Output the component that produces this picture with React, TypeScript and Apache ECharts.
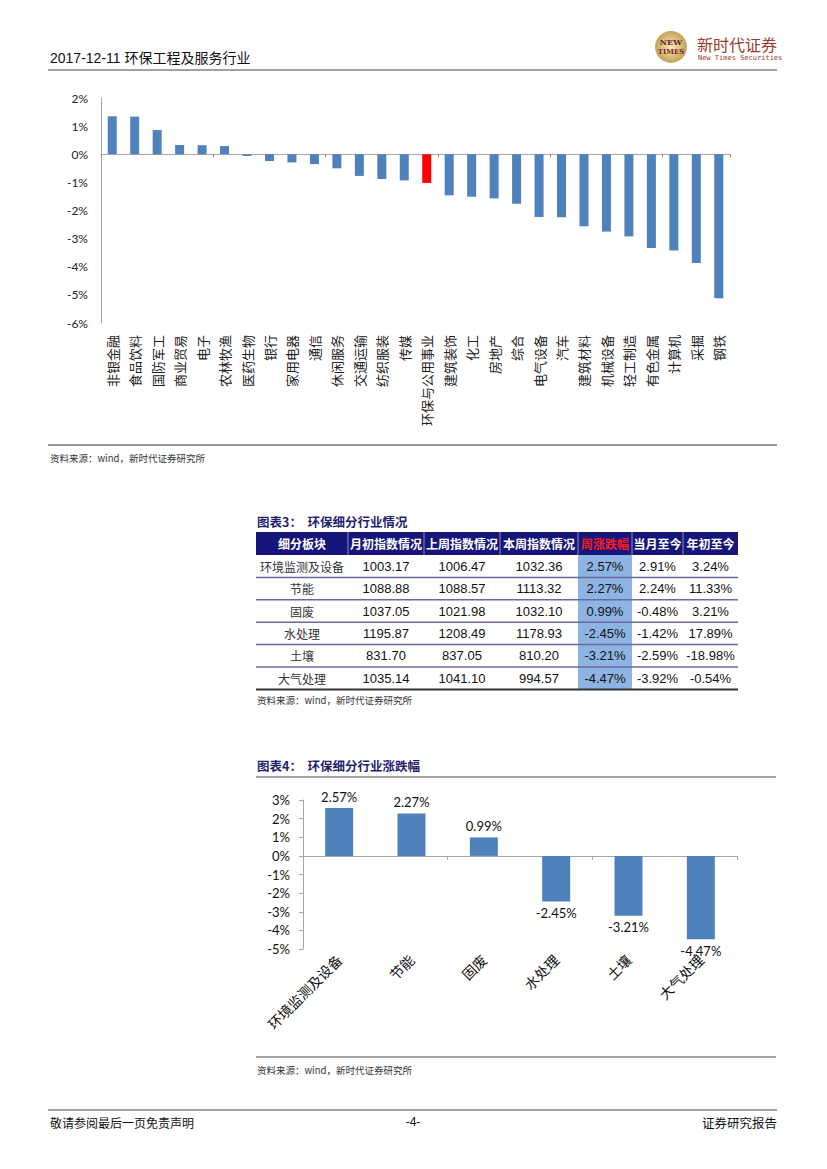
import React, { useEffect, useRef } from "react";
import * as echarts from "echarts";

// ---- Chart 1: industry weekly change (%) ----
const industries = [
  "非银金融", "食品饮料", "国防军工", "商业贸易", "电子", "农林牧渔", "医药生物",
  "银行", "家用电器", "通信", "休闲服务", "交通运输", "纺织服装", "传媒",
  "环保与公用事业", "建筑装饰", "化工", "房地产", "综合", "电气设备", "汽车",
  "建筑材料", "机械设备", "轻工制造", "有色金属", "计算机", "采掘", "钢铁",
];
const industryChange = [
  1.35, 1.34, 0.86, 0.33, 0.32, 0.29, -0.06, -0.24, -0.29, -0.35, -0.5, -0.77,
  -0.88, -0.93, -1.02, -1.46, -1.51, -1.57, -1.76, -2.23, -2.24, -2.56, -2.75,
  -2.92, -3.33, -3.42, -3.87, -5.12,
];
const highlightIndustry = "环保与公用事业";
const chart1Min = -6;
const chart1Max = 2;

// ---- Table 3 / Chart 4: sub-sectors ----
const tableHeaders = ["细分板块", "月初指数情况", "上周指数情况", "本周指数情况", "周涨跌幅", "当月至今", "年初至今"];
const subSectors = ["环境监测及设备", "节能", "固废", "水处理", "土壤", "大气处理"];
const monthStartIdx = [1003.17, 1088.88, 1037.05, 1195.87, 831.7, 1035.14];
const lastWeekIdx = [1006.47, 1088.57, 1021.98, 1208.49, 837.05, 1041.1];
const thisWeekIdx = [1032.36, 1113.32, 1032.1, 1178.93, 810.2, 994.57];
const weekChange = [2.57, 2.27, 0.99, -2.45, -3.21, -4.47];
const monthToDate = [2.91, 2.24, -0.48, -1.42, -2.59, -3.92];
const yearToDate = [3.24, 11.33, 3.21, 17.89, -18.98, -0.54];
const chart4Min = -5;
const chart4Max = 3;

const headerText = "2017-12-11 环保工程及服务行业";
const sourceText = "资料来源：wind，新时代证券研究所";
const table3Title = "图表3：  环保细分行业情况";
const chart4Title = "图表4：  环保细分行业涨跌幅";

const CJK = "'Noto Sans CJK SC', sans-serif";
const LAT = "'Liberation Sans', 'Noto Sans CJK SC', sans-serif";
const CAL = "Lato, 'Noto Sans CJK SC', sans-serif";
const BLUE = "#4f81bd";

function txt(text: string, x: number, y: number, o: any = {}) {
  const align = o.align || "left";
  const va = o.va || "middle";
  return {
    type: "text",
    silent: true,
    style: {
      text,
      x,
      y,
      fill: o.fill || "#222",
      fontSize: o.size || 12,
      fontFamily: o.family || CJK,
      fontWeight: o.weight || "normal",
      align,
      verticalAlign: va,
      textAlign: align,
      textVerticalAlign: va,
    },
  };
}
function hline(x1: number, x2: number, y: number, stroke = "#333", lineWidth = 1) {
  return { type: "line", silent: true, shape: { x1, y1: y, x2, y2: y }, style: { stroke, lineWidth } };
}

function buildGraphics() {
  const g: any[] = [];
  // page header
  g.push(txt(headerText, 50, 58, { size: 14, family: LAT, fill: "#111" }));
  g.push(hline(48, 777, 70, "#444", 1));
  // logo
  g.push({
    type: "circle",
    silent: true,
    shape: { cx: 671, cy: 47, r: 16 },
    style: {
      fill: new echarts.graphic.RadialGradient(0.5, 0.5, 0.6, [
        { offset: 0, color: "#f6ebc0" },
        { offset: 1, color: "#b8953f" },
      ]),
    },
  });
  g.push(txt("NEW", 671, 42, { size: 8, align: "center", family: "'DejaVu Serif', serif", fill: "#7a1f1f", weight: "bold" }));
  g.push(txt("TIMES", 671, 51, { size: 7, align: "center", family: "'DejaVu Serif', serif", fill: "#7a1f1f", weight: "bold" }));
  g.push(txt("新时代证券", 697, 44, { size: 16, fill: "#9a3b2b" }));
  g.push(txt("New Times Securities", 698, 58, { size: 7, family: "'DejaVu Sans Mono', monospace", fill: "#9a3b2b" }));

  // chart 1 bottom rule & source
  g.push(hline(48, 777, 445, "#333", 1));
  g.push(txt(sourceText, 50, 458, { size: 9.5, fill: "#333" }));

  // table 3
  g.push(txt(table3Title, 257, 521, { size: 12.5, weight: "bold", fill: "#1f1f6e" }));
  const colX = [256, 348, 424, 500, 578, 632, 683, 738];
  const headTop = 532;
  const headH = 23;
  const rowH = 22.4;
  const nRows = subSectors.length;
  const tableBottom = headTop + headH + rowH * nRows;
  g.push({ type: "rect", silent: true, shape: { x: colX[0], y: headTop, width: colX[7] - colX[0], height: headH }, style: { fill: "#15157a" } });
  g.push({
    type: "rect",
    silent: true,
    shape: { x: colX[4], y: headTop + headH, width: colX[5] - colX[4], height: rowH * nRows },
    style: { fill: "#8db4e2" },
  });
  for (let c = 1; c < 7; c++) {
    g.push({ type: "line", silent: true, shape: { x1: colX[c], y1: headTop, x2: colX[c], y2: headTop + headH }, style: { stroke: "#8f8fc0", lineWidth: 1 } });
  }
  tableHeaders.forEach((h, c) => {
    g.push(
      txt(h, (colX[c] + colX[c + 1]) / 2, headTop + headH / 2, {
        size: 12,
        weight: "bold",
        align: "center",
        fill: c === 4 ? "#ff1a1a" : "#ffffff",
      })
    );
  });
  const pct = (v: number) => `${v.toFixed(2)}%`;
  for (let r = 0; r < nRows; r++) {
    const cy = headTop + headH + rowH * r + rowH / 2;
    const cells = [
      subSectors[r],
      monthStartIdx[r].toFixed(2),
      lastWeekIdx[r].toFixed(2),
      thisWeekIdx[r].toFixed(2),
      pct(weekChange[r]),
      pct(monthToDate[r]),
      pct(yearToDate[r]),
    ];
    cells.forEach((t, c) => {
      g.push(
        txt(t, (colX[c] + colX[c + 1]) / 2, cy, {
          size: c === 0 ? 12 : 13,
          family: c === 0 ? CJK : LAT,
          align: "center",
          fill: c === 0 ? "#333" : "#111",
        })
      );
    });
    const ly = headTop + headH + rowH * (r + 1);
    if (r < nRows - 1) g.push(hline(colX[0], colX[7], ly, "#6a6aa0", 1.5));
  }
  g.push(hline(colX[0], colX[7], tableBottom, "#333", 2));
  g.push(txt(sourceText, 257, 700, { size: 9.5, fill: "#333" }));

  // chart 4 title and rules
  g.push(txt(chart4Title, 257, 765, { size: 12.5, weight: "bold", fill: "#1f1f6e" }));
  g.push(hline(256, 776, 777, "#444", 1));
  g.push(hline(256, 776, 1057, "#444", 1));
  g.push(txt(sourceText, 257, 1070, { size: 9.5, fill: "#333" }));

  // footer
  g.push(hline(48, 777, 1110, "#444", 1));
  g.push(txt("敬请参阅最后一页免责声明", 50, 1122, { size: 12, fill: "#111" }));
  g.push(txt("-4-", 413, 1122, { size: 12, family: LAT, align: "center", fill: "#111" }));
  g.push(txt("证券研究报告", 777, 1122, { size: 12.5, align: "right", fill: "#111" }));
  return g;
}

export default function App() {
  const ref = useRef<HTMLDivElement>(null);
  useEffect(() => {
    if (!ref.current) return;
    const chart = echarts.init(ref.current, undefined, { renderer: "svg" });
    const pctFmt = (v: number) => `${v}%`;
    const option: any = {
      animation: false,
      backgroundColor: "#ffffff",
      grid: [
        { left: 101, top: 98, width: 629, height: 225 },
        { left: 303, top: 800, width: 434, height: 149 },
      ],
      xAxis: [
        {
          gridIndex: 0,
          type: "category",
          data: industries,
          position: "bottom",
          axisLine: { show: false, onZero: false },
          axisTick: { show: false },
          axisLabel: { interval: 0, rotate: 90, margin: 12, fontSize: 13, color: "#222", fontFamily: CJK },
        },
        {
          gridIndex: 0,
          type: "category",
          data: industries,
          position: "bottom",
          axisLine: { show: true, onZero: true, lineStyle: { color: "#a6a6a6", width: 1 } },
          axisTick: { show: true, length: 3, lineStyle: { color: "#b07a5a" } },
          axisLabel: { show: false },
        },
        {
          gridIndex: 1,
          type: "category",
          data: subSectors,
          position: "bottom",
          axisLine: { show: false, onZero: false },
          axisTick: { show: false },
          axisLabel: { interval: 0, rotate: 45, margin: 8, fontSize: 14, color: "#111", fontFamily: CJK },
        },
        {
          gridIndex: 1,
          type: "category",
          data: subSectors,
          position: "bottom",
          axisLine: { show: true, onZero: true, lineStyle: { color: "#a6a6a6", width: 1 } },
          axisTick: { show: true, length: 4, lineStyle: { color: "#a6a6a6" } },
          axisLabel: { show: false },
        },
      ],
      yAxis: [
        {
          gridIndex: 0,
          type: "value",
          min: chart1Min,
          max: chart1Max,
          interval: 1,
          axisLine: { show: true, lineStyle: { color: "#a6a6a6" } },
          axisTick: { show: false },
          splitLine: { show: false },
          axisLabel: { formatter: pctFmt, fontSize: 12, color: "#222", margin: 13, fontFamily: CAL },
        },
        {
          gridIndex: 1,
          type: "value",
          min: chart4Min,
          max: chart4Max,
          interval: 1,
          axisLine: { show: true, lineStyle: { color: "#a6a6a6" } },
          axisTick: { show: true, length: 4, lineStyle: { color: "#a6a6a6" } },
          splitLine: { show: false },
          axisLabel: { formatter: pctFmt, fontSize: 13, color: "#111", margin: 13, fontFamily: CAL },
        },
      ],
      series: [
        {
          type: "bar",
          xAxisIndex: 0,
          yAxisIndex: 0,
          barWidth: 9,
          data: industryChange.map((v, i) => ({
            value: v,
            itemStyle: { color: industries[i] === highlightIndustry ? "#ff0000" : BLUE },
          })),
        },
        {
          type: "bar",
          xAxisIndex: 2,
          yAxisIndex: 1,
          barWidth: 28,
          itemStyle: { color: BLUE },
          data: weekChange.map((v) => ({
            value: v,
            label: {
              show: true,
              position: v >= 0 ? "top" : "bottom",
              distance: 5,
              formatter: `${v.toFixed(2)}%`,
              fontSize: 13,
              color: "#111",
              fontFamily: CAL,
            },
          })),
        },
      ],
      graphic: { elements: buildGraphics() },
    };
    chart.setOption(option);
    return () => chart.dispose();
  }, []);
  return (
    <div
      ref={ref}
      style={{ position: "absolute", left: 0, top: 0, width: 827, height: 1169, background: "#fff" }}
    />
  );
}
